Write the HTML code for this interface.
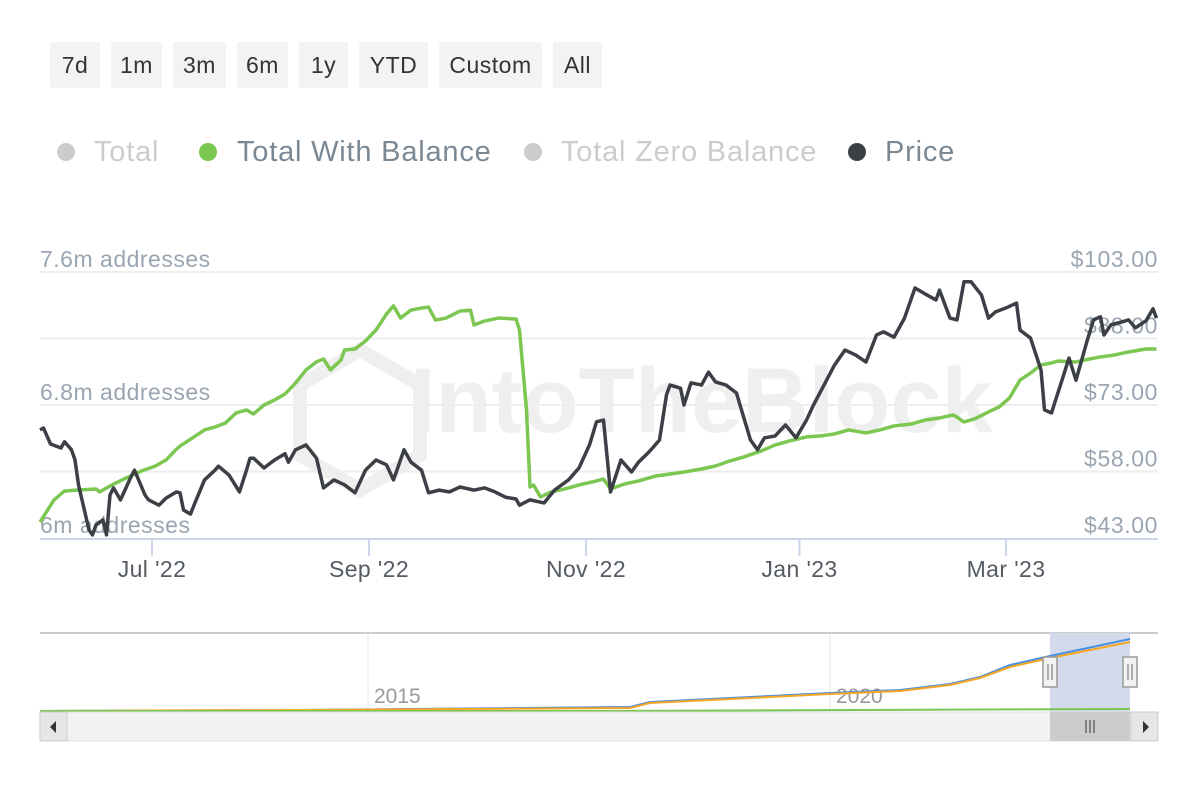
<!DOCTYPE html>
<html><head><meta charset="utf-8">
<style>
body{margin:0;width:1200px;height:800px;background:#fff;font-family:"Liberation Sans",sans-serif;overflow:hidden;position:relative}
.btn{position:absolute;top:42px;height:46px;background:#f3f3f3;color:#333;font-size:23px;line-height:46px;text-align:center;border-radius:2px;letter-spacing:0.5px}
</style></head><body>
<div>
<div class="btn" style="left:50px;width:50px">7d</div>
<div class="btn" style="left:111px;width:51px">1m</div>
<div class="btn" style="left:173px;width:53px">3m</div>
<div class="btn" style="left:237px;width:51px">6m</div>
<div class="btn" style="left:299px;width:49px">1y</div>
<div class="btn" style="left:359px;width:69px">YTD</div>
<div class="btn" style="left:439px;width:103px">Custom</div>
<div class="btn" style="left:553px;width:49px">All</div>
</div>
<svg id="chart" width="1200" height="800" style="position:absolute;left:0;top:0">
<g font-size="29" letter-spacing="0.8">
<g><circle cx="66" cy="152" r="9" fill="#ccc"/><text x="94" y="161" fill="#ccc">Total</text></g>
<g><circle cx="208" cy="152" r="9" fill="#7cc652"/><text x="237" y="161" fill="#7a8894">Total With Balance</text></g>
<g><circle cx="533" cy="152" r="9" fill="#ccc"/><text x="561" y="161" fill="#ccc">Total Zero Balance</text></g>
<g><circle cx="857" cy="152" r="9" fill="#3c4046"/><text x="885" y="161" fill="#7a8894">Price</text></g>
</g>
<text x="410" y="432" font-size="92" font-weight="bold" fill="#efefef">IntoTheBlock</text>
<g fill="none" stroke="#efefef" stroke-width="14"><polygon points="360,350 420,385 420,455 360,490 300,455 300,385"/></g>
<g id="grid"></g><g id="axes"></g><g id="series"></g><g id="nav"></g>
</svg>
<script>
const priceDays=[0,1,3,6,7,9,10,11,14,15,16,18,19,20,21,23,26,27,30,31,34,36,39,40,41,43,44,47,50,51,54,57,59,60,61,64,67,70,71,73,76,79,81,84,87,90,93,96,99,101,103,104,106,109,111,114,117,120,124,127,130,133,136,137,140,144,147,151,154,157,159,161,163,166,169,171,174,177,179,180,183,184,186,189,191,193,196,199,200,203,205,207,210,213,216,219,221,224,227,230,233,236,239,241,244,247,250,253,256,257,260,262,264,266,269,271,273,276,279,280,283,286,287,289,290,292,294,296,297,299,301,303,304,306,309,311,313,316,318,319];
const priceValues=[67.4,67.8,64.2,63.3,64.7,62.9,60.6,55.0,44.8,43.7,45.9,47.1,43.7,52.7,54.3,51.6,56.8,58.3,52.7,51.6,50.4,52.0,53.4,53.2,49.3,48.4,50.4,56.1,58.3,59.2,57.2,53.4,58.3,61.0,61.0,58.8,60.6,62.0,60.1,62.9,64.0,61.0,54.3,56.1,55.0,53.2,58.3,60.6,59.5,56.1,60.6,62.9,60.1,58.3,53.2,53.8,53.4,54.5,53.8,54.3,53.4,52.2,51.8,50.4,51.6,50.9,53.8,56.1,58.8,64.0,69.2,69.6,53.4,60.6,57.9,60.1,62.4,65.1,75.3,77.5,76.8,73.0,78.0,77.5,80.4,78.2,77.5,75.7,73.0,65.1,62.9,65.6,66.0,68.5,65.6,69.6,73.0,77.5,82.0,85.4,84.3,82.7,88.8,89.5,88.3,92.6,99.4,98.0,96.7,98.9,92.6,92.2,100.8,100.8,97.8,92.6,94.0,94.9,96.0,89.9,88.1,80.9,71.9,71.2,73.7,78.6,83.6,78.6,81.4,87.0,92.2,92.9,88.8,91.1,91.7,92.2,90.4,92.0,94.7,92.6];
const balDays=[0,4,7,11,16,17,20,24,29,33,36,39,40,44,47,50,53,56,59,61,64,67,70,73,76,79,81,83,86,87,90,93,96,99,101,103,106,109,111,113,116,120,123,124,127,131,136,137,139,140,141,143,146,150,154,159,161,163,167,171,176,180,184,189,193,197,201,206,210,214,219,223,227,231,236,240,244,249,253,257,261,264,267,271,274,277,280,283,286,289,291,296,300,303,307,311,316,319];
const balValues=[6.096,6.229,6.283,6.289,6.295,6.277,6.313,6.355,6.403,6.433,6.469,6.535,6.553,6.608,6.650,6.668,6.692,6.752,6.770,6.746,6.800,6.830,6.866,6.932,7.011,7.059,7.077,7.011,7.071,7.131,7.137,7.185,7.251,7.347,7.396,7.323,7.371,7.383,7.389,7.311,7.323,7.365,7.371,7.281,7.305,7.323,7.317,7.251,6.770,6.307,6.319,6.247,6.277,6.295,6.319,6.343,6.355,6.295,6.325,6.343,6.373,6.385,6.397,6.415,6.433,6.463,6.487,6.523,6.559,6.583,6.608,6.614,6.626,6.650,6.632,6.650,6.674,6.686,6.710,6.722,6.740,6.698,6.716,6.758,6.788,6.842,6.950,6.992,7.041,7.053,7.065,7.059,7.077,7.089,7.101,7.119,7.137,7.137];
const leftTicks=[6.0,6.8,7.6];const leftLabels=["6m addresses","6.8m addresses","7.6m addresses"];
const rightTicks=[43,58,73,88,103];
const xTickDays=[32,94,156,217,276];const xTickLabels=["Jul '22","Sep '22","Nov '22","Jan '23","Mar '23"];
const navYears=[2015,2020];
const NS="http://www.w3.org/2000/svg";
const X0=40,X1=1158,YB=538,YT=272;
const xS=d=>X0+d*3.5;
const yL=v=>YB-(v-6)/(7.6-6)*(YB-YT);
const yR=v=>YB-(v-43)/(103-43)*(YB-YT);
function mk(t,a,p){const e=document.createElementNS(NS,t);for(const k in a)e.setAttribute(k,a[k]);p.appendChild(e);return e;}
const grid=document.getElementById('grid'),axes=document.getElementById('axes'),ser=document.getElementById('series'),nav=document.getElementById('nav');
rightTicks.forEach((v,i)=>{const y=yR(v);
 if(i>0){const l=mk('line',{x1:X0,x2:X1,y1:y,y2:y,stroke:'#eeeeee','stroke-width':2},grid);}
 const t=mk('text',{x:1158,y:y-5,'text-anchor':'end','font-size':23,'letter-spacing':0.6,fill:'#9aa5b1'},axes);t.textContent='$'+v.toFixed(2);
 });
leftTicks.forEach((v,i)=>{const t=mk('text',{x:40,y:yL(v)-5,'font-size':23,'letter-spacing':0.5,fill:'#9aa5b1'},axes);t.textContent=leftLabels[i];
 });
const ax=mk('line',{x1:X0,x2:X1,y1:YB+1,y2:YB+1,stroke:'#ccd6eb','stroke-width':2},axes);

xTickDays.forEach((d,i)=>{const x=xS(d);mk('line',{x1:x,x2:x,y1:YB,y2:YB+18,stroke:'#ccd6eb','stroke-width':2},axes);
 const t=mk('text',{x:x,y:577,'text-anchor':'middle','font-size':23,'letter-spacing':0.4,fill:'#555b63'},axes);t.textContent=xTickLabels[i];
 });
const g=mk('polyline',{points:balDays.map((d,i)=>xS(d)+','+yL(balValues[i])).join(' '),fill:'none',stroke:'#7cc652','stroke-width':3.5,'stroke-linejoin':'round'},ser);

const p=mk('polyline',{points:priceDays.map((d,i)=>xS(d)+','+yR(priceValues[i])).join(' '),fill:'none',stroke:'#3c4046','stroke-width':3.5,'stroke-linejoin':'round'},ser);

mk('line',{x1:40,x2:1158,y1:633,y2:633,stroke:'#cccccc','stroke-width':2},nav);
const sel=mk('rect',{x:1050,y:633,width:80,height:79,fill:'#d2daec'},nav);

navYears.forEach((yr,i)=>{const x=[368,830][i];mk('line',{x1:x,x2:x,y1:633,y2:712,stroke:'#e6e6e6'},nav);
 const t=mk('text',{x:x+6,y:703,'font-size':21,fill:'#999'},nav);t.textContent=yr;
 });
mk('polyline',{points:'40,711 300,710 630,707 650,702 830,693 900,690 950,684 980,677 1010,665 1050,656 1130,639',fill:'none',stroke:'#4a90e2','stroke-width':2},nav);
mk('polyline',{points:'40,711 300,710 630,708 650,703 830,694 900,691 950,685 980,678 1010,667 1050,658 1130,642',fill:'none',stroke:'#f5a623','stroke-width':2},nav);
mk('polyline',{points:'40,711 600,711 1130,709',fill:'none',stroke:'#7cc652','stroke-width':2},nav);
[1050,1130].forEach(x=>{const h=mk('rect',{x:x-7,y:657,width:14,height:30,fill:'#f2f2f2',stroke:'#999','stroke-width':1.5},nav);
 
 mk('line',{x1:x-2,x2:x-2,y1:664,y2:680,stroke:'#666'},nav);mk('line',{x1:x+2,x2:x+2,y1:664,y2:680,stroke:'#666'},nav);});
const sb=mk('rect',{x:40,y:712,width:1118,height:29,fill:'#f2f2f2',stroke:'#e0e0e0'},nav);

const th=mk('rect',{x:1050,y:712,width:80,height:29,fill:'#cccccc'},nav);

[1086,1090,1094].forEach(x=>mk('line',{x1:x,x2:x,y1:720,y2:733,stroke:'#333'},nav));
const lb=mk('rect',{x:40,y:712,width:27,height:29,fill:'#e6e6e6',stroke:'#ccc'},nav);

mk('polygon',{points:'50,727 56,721 56,733',fill:'#333'},nav);
const rb=mk('rect',{x:1131,y:712,width:27,height:29,fill:'#e6e6e6',stroke:'#ccc'},nav);

mk('polygon',{points:'1149,727 1143,721 1143,733',fill:'#333'},nav);
</script>
</body></html>
